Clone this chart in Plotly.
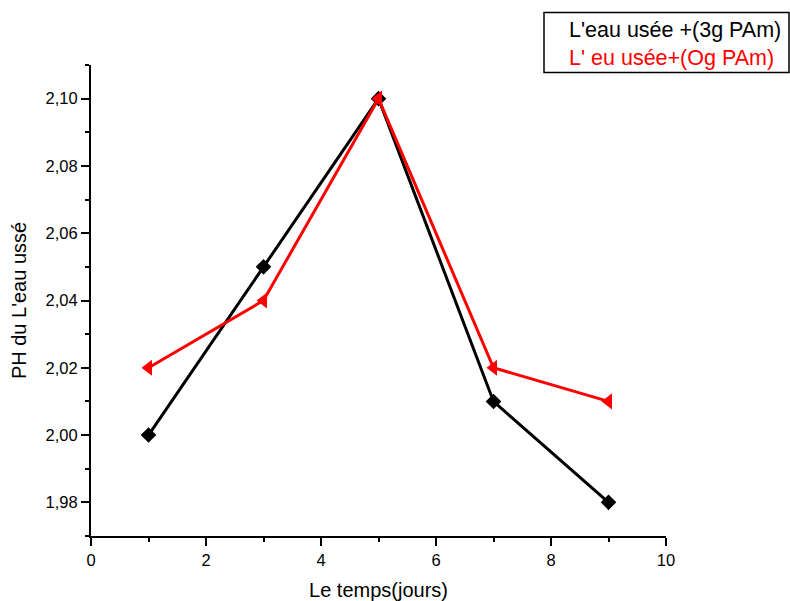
import plotly.graph_objects as go

days = [1, 3, 5, 7, 9]
ph_3g = [2.00, 2.05, 2.10, 2.01, 1.98]
ph_0g = [2.02, 2.04, 2.10, 2.02, 2.01]
name_3g = "L'eau usée +(3g PAm)"
name_0g = "L' eu usée+(Og PAm)"

fig = go.Figure()
fig.add_trace(go.Scatter(x=days, y=ph_3g, mode="lines+markers", name=name_3g,
                         line=dict(color="black", width=3),
                         marker=dict(symbol="diamond", size=12, color="black")))
fig.add_trace(go.Scatter(x=days, y=ph_0g, mode="lines+markers", name=name_0g,
                         line=dict(color="red", width=3),
                         marker=dict(symbol="triangle-left", size=14, color="red")))

font = "Liberation Sans, Arial, sans-serif"
L, R, T, B = 91, 666, 65, 536
W, H = 790, 601


def px(x):
    return (x - L) / (R - L)


def py(y):
    return (B - y) / (B - T)


fig.update_layout(
    width=W, height=H,
    margin=dict(l=L, r=W - R, t=T, b=H - B, autoexpand=False),
    plot_bgcolor="white", paper_bgcolor="white",
    showlegend=False,
    separators=", ",
    font=dict(family=font, size=16.5, color="black"),
    xaxis=dict(range=[0, 10], showgrid=False, zeroline=False, automargin=False,
               showline=True, linecolor="black", linewidth=2,
               ticks="outside", ticklen=8, tickwidth=2, tickcolor="black",
               dtick=2, tick0=0,
               minor=dict(ticks="outside", ticklen=4, tickwidth=2, tickcolor="black", dtick=1),
               title=dict(text="Le temps(jours)", font=dict(size=20), standoff=18)),
    yaxis=dict(range=[1.97, 2.11], showgrid=False, zeroline=False, automargin=False,
               showline=True, linecolor="black", linewidth=2,
               ticks="outside", ticklen=8, tickwidth=2, tickcolor="black",
               dtick=0.02, tick0=1.98, tickformat=".2f",
               minor=dict(ticks="outside", ticklen=4, tickwidth=2, tickcolor="black", dtick=0.01),
               title=dict(text="PH du L'eau ussé", font=dict(size=20), standoff=14)),
)

fig.add_shape(type="rect", xref="paper", yref="paper",
              x0=px(544), x1=px(789), y0=py(72.5), y1=py(12.5),
              line=dict(color="black", width=1.5), fillcolor="white", layer="above")

fig.add_annotation(
    xref="paper", yref="paper", x=px(567), y=py(44),
    xanchor="left", yanchor="middle",
    text=name_3g + "<br><span style='color:red'>" + name_0g + "</span>",
    showarrow=False, align="left",
    font=dict(family=font, size=21.5, color="black"),
)

fig.write_html("out.html")
